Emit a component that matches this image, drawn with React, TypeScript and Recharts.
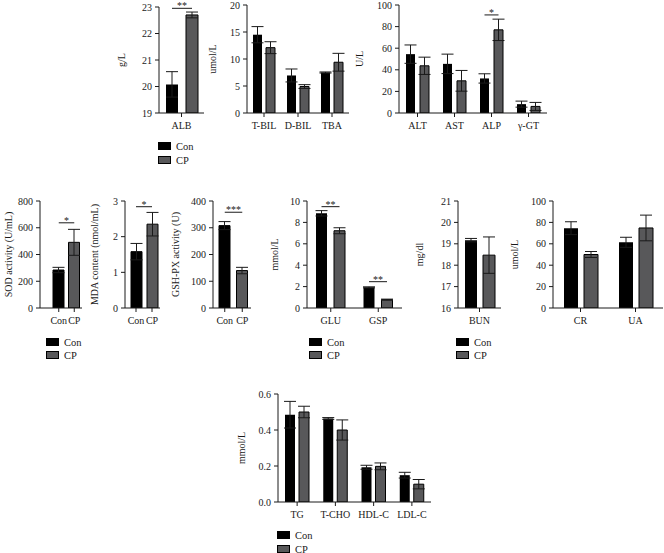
import React from "react";
import { BarChart, Bar, XAxis, YAxis, ErrorBar, Cell, LabelList, ReferenceLine } from "recharts";

const FONT = "'Liberation Serif', 'Times New Roman', serif";
const INK = "#1a1a1a";
const CON_FILL = "#000000";
const CP_FILL = "#58585a";

const groups = ["Con", "CP"];

// serum albumin
const albCats = ["ALB"];
const albCon = [20.08];
const albConSd = [0.48];
const albCp = [22.7];
const albCpSd = [0.11];
const albSig = ["**"];
const albSigAt = [22.95];
const albTicks = [19, 20, 21, 22, 23];

// bilirubin / bile acid
const bilCats = ["T-BIL", "D-BIL", "TBA"];
const bilCon = [14.5, 6.95, 7.5];
const bilConSd = [1.5, 1.2, 0.1];
const bilCp = [12.1, 4.9, 9.4];
const bilCpSd = [1.1, 0.35, 1.65];
const bilTicks = [0, 5, 10, 15, 20];

// liver enzymes
const enzCats = ["ALT", "AST", "ALP", "γ-GT"];
const enzCon = [54.5, 45.5, 32, 8.2];
const enzConSd = [8.5, 9, 4.3, 2.8];
const enzCp = [43.7, 29.8, 77, 6.1];
const enzCpSd = [8, 9.6, 9.9, 3.7];
const enzSig = ["", "", "*", ""];
const enzSigAt = [0, 0, 90.8, 0];
const enzTicks = [0, 20, 40, 60, 80, 100];

// oxidative stress
const sodVals = [284, 491];
const sodSd = [20, 97];
const sodSigAt = 637;
const sodTicks = [0, 200, 400, 600, 800];

const mdaVals = [1.58, 2.35];
const mdaSd = [0.23, 0.33];
const mdaSigAt = 2.84;
const mdaTicks = [0, 1, 2, 3];

const gshVals = [308, 140];
const gshSd = [15, 12];
const gshSigAt = 358;
const gshTicks = [0, 100, 200, 300, 400];

// glucose
const gluCats = ["GLU", "GSP"];
const gluCon = [8.85, 1.93];
const gluConSd = [0.25, 0.05];
const gluCp = [7.22, 0.78];
const gluCpSd = [0.28, 0.05];
const gluSig = ["**", "**"];
const gluSigAt = [9.47, 2.46];
const gluTicks = [0, 2, 4, 6, 8, 10];

// kidney
const bunCats = ["BUN"];
const bunCon = [19.17];
const bunConSd = [0.08];
const bunCp = [18.47];
const bunCpSd = [0.85];
const bunTicks = [16, 17, 18, 19, 20, 21];

const crCats = ["CR", "UA"];
const crCon = [74.6, 61.4];
const crConSd = [6, 4.7];
const crCp = [50, 74.8];
const crCpSd = [2.8, 12];
const crTicks = [0, 20, 40, 60, 80, 100];

// lipids
const lipCats = ["TG", "T-CHO", "HDL-C", "LDL-C"];
const lipCon = [0.485, 0.464, 0.193, 0.149];
const lipConSd = [0.074, 0.005, 0.011, 0.016];
const lipCp = [0.5, 0.4, 0.198, 0.099];
const lipCpSd = [0.032, 0.056, 0.019, 0.026];
const lipTicks = [0, 0.2, 0.4, 0.6];

const MT = 6;
const MR = 2;
const XH = 30;

const tickStyle = { fill: INK, fontSize: 10, fontFamily: FONT };

type Frame = { axisX: number; right: number; top: number; bottom: number; labelX: number };

function frameBox(f: Frame) {
  const yw = f.axisX - f.labelX + 6;
  return {
    yw,
    left: f.axisX - yw,
    top: f.top - MT,
    width: yw + (f.right - f.axisX) + MR,
    height: MT + (f.bottom - f.top) + XH,
  };
}

function yLabelProps(text: string) {
  return {
    value: text,
    angle: -90,
    position: "insideLeft" as const,
    offset: 6,
    fill: INK,
    fontSize: 10,
    fontFamily: FONT,
    style: { textAnchor: "middle" as const },
  };
}

type GroupedProps = Frame & {
  cats: string[];
  con: number[];
  conSd: number[];
  cp: number[];
  cpSd: number[];
  sig?: string[];
  sigAt?: number[];
  ticks: number[];
  yLabel: string;
  fmt?: (v: number) => string;
  barSize: number;
  barGap: number;
};

function Grouped(p: GroupedProps) {
  const box = frameBox(p);
  const rows = p.cats.map((name, i) => ({
    name,
    con: p.con[i],
    conSd: p.conSd[i],
    cp: p.cp[i],
    cpSd: p.cpSd[i],
    sig: p.sig ? p.sig[i] : "",
  }));
  const base = p.ticks[0];

  const renderSig = (props: any) => {
    const vb = props.viewBox && typeof props.viewBox.x === "number" ? props.viewBox : props;
    const { x, y, width, height } = vb;
    const i = props.index;
    if (!props.value || !p.sigAt || typeof i !== "number") return null;
    const v = p.cp[i];
    const perUnit = height / (v - base);
    const ly = y + height - (p.sigAt[i] - base) * perUnit;
    const x1 = x - p.barGap - width / 2;
    const x2 = x + width / 2;
    return (
      <g>
        <line x1={x1} x2={x2} y1={ly} y2={ly} stroke={INK} strokeWidth={1} />
        <text x={(x1 + x2) / 2} y={ly + 1} textAnchor="middle" fontSize={10} fontFamily={FONT} fill={INK}>
          {props.value}
        </text>
      </g>
    );
  };

  return (
    <div style={{ position: "absolute", left: box.left, top: box.top }}>
      <BarChart
        width={box.width}
        height={box.height}
        data={rows}
        margin={{ top: MT, right: MR, bottom: 0, left: 0 }}
        barGap={p.barGap}
        style={{ overflow: "visible" }}
      >
        <XAxis
          dataKey="name"
          height={XH}
          tickSize={4}
          tickMargin={5}
          tick={tickStyle}
          stroke={INK}
          axisLine={{ stroke: INK }}
          tickLine={{ stroke: INK }}
          interval={0}
        />
        <YAxis
          type="number"
          width={box.yw}
          domain={[p.ticks[0], p.ticks[p.ticks.length - 1]]}
          ticks={p.ticks}
          allowDataOverflow
          tickSize={4}
          tickMargin={3}
          tick={tickStyle}
          tickFormatter={p.fmt}
          axisLine={{ stroke: INK }}
          tickLine={{ stroke: INK }}
          interval={0}
          label={yLabelProps(p.yLabel)}
        />
        <Bar dataKey="con" fill={CON_FILL} barSize={p.barSize} isAnimationActive={false}>
          <ErrorBar dataKey="conSd" width={6} stroke={INK} strokeWidth={1} direction="y" />
        </Bar>
        <Bar dataKey="cp" fill={CP_FILL} stroke="#000" strokeWidth={1} barSize={p.barSize} isAnimationActive={false}>
          <ErrorBar dataKey="cpSd" width={6} stroke={INK} strokeWidth={1} direction="y" />
          {p.sig ? <LabelList dataKey="sig" content={renderSig} /> : null}
        </Bar>
      </BarChart>
    </div>
  );
}

type PairProps = Frame & {
  vals: number[];
  sd: number[];
  sigAt: number;
  sig: string;
  ticks: number[];
  yLabel: string;
  barSize: number;
  padLeft: number;
};

function Pair(p: PairProps) {
  const box = frameBox(p);
  const rows = groups.map((name, i) => ({ name, v: p.vals[i], sd: p.sd[i] }));
  return (
    <div style={{ position: "absolute", left: box.left, top: box.top }}>
      <BarChart
        width={box.width}
        height={box.height}
        data={rows}
        margin={{ top: MT, right: MR, bottom: 0, left: 0 }}
        style={{ overflow: "visible" }}
      >
        <XAxis
          dataKey="name"
          height={XH}
          padding={{ left: p.padLeft, right: 0 }}
          tickSize={4}
          tickMargin={5}
          tick={tickStyle}
          axisLine={{ stroke: INK }}
          tickLine={{ stroke: INK }}
          interval={0}
        />
        <YAxis
          type="number"
          width={box.yw}
          domain={[p.ticks[0], p.ticks[p.ticks.length - 1]]}
          ticks={p.ticks}
          allowDataOverflow
          tickSize={4}
          tickMargin={3}
          tick={tickStyle}
          axisLine={{ stroke: INK }}
          tickLine={{ stroke: INK }}
          interval={0}
          label={yLabelProps(p.yLabel)}
        />
        <Bar dataKey="v" barSize={p.barSize} isAnimationActive={false}>
          {rows.map((r, i) => (
            <Cell key={r.name} fill={i === 0 ? CON_FILL : CP_FILL} stroke="#000" strokeWidth={1} />
          ))}
          <ErrorBar dataKey="sd" width={6} stroke={INK} strokeWidth={1} direction="y" />
        </Bar>
        <ReferenceLine
          segment={[
            { x: groups[0], y: p.sigAt },
            { x: groups[1], y: p.sigAt },
          ]}
          stroke={INK}
          strokeWidth={1}
          ifOverflow="visible"
          label={{ value: p.sig, position: "top", offset: -1, fill: INK, fontSize: 10, fontFamily: FONT }}
        />
      </BarChart>
    </div>
  );
}

function LegendBlock({ x, y, step }: { x: number; y: number; step: number }) {
  return (
    <svg
      width={60}
      height={step + 12}
      style={{ position: "absolute", left: x, top: y, overflow: "visible" }}
    >
      {groups.map((g, i) => (
        <g key={g}>
          <rect
            x={0.5}
            y={0.5 + i * step}
            width={12}
            height={7}
            fill={i === 0 ? CON_FILL : CP_FILL}
            stroke="#000"
            strokeWidth={1}
          />
          <text x={18} y={7.5 + i * step} fontSize={10.5} fontFamily={FONT} fill={INK}>
            {g}
          </text>
        </g>
      ))}
    </svg>
  );
}

export default function App() {
  return (
    <div
      style={{
        position: "absolute",
        left: 0,
        top: 0,
        width: 664,
        height: 553,
        background: "#fff",
        overflow: "hidden",
        fontFamily: FONT,
      }}
    >
      <Grouped
        axisX={159} right={204} top={7} bottom={113} labelX={121}
        cats={albCats} con={albCon} conSd={albConSd} cp={albCp} cpSd={albCpSd}
        sig={albSig} sigAt={albSigAt} ticks={albTicks} yLabel="g/L" barSize={12} barGap={8}
      />
      <Grouped
        axisX={247} right={349} top={5} bottom={113} labelX={212}
        cats={bilCats} con={bilCon} conSd={bilConSd} cp={bilCp} cpSd={bilCpSd}
        ticks={bilTicks} yLabel="umol/L" barSize={9} barGap={4}
      />
      <Grouped
        axisX={399} right={547} top={5} bottom={113} labelX={359}
        cats={enzCats} con={enzCon} conSd={enzConSd} cp={enzCp} cpSd={enzCpSd}
        sig={enzSig} sigAt={enzSigAt} ticks={enzTicks} yLabel="U/L" barSize={9} barGap={5}
      />
      <LegendBlock x={158} y={142} step={14} />

      <Pair
        axisX={40} right={82} top={201} bottom={308} labelX={8}
        vals={sodVals} sd={sodSd} sig="*" sigAt={sodSigAt} ticks={sodTicks}
        yLabel="SOD activity (U/mL)" barSize={11} padLeft={11}
      />
      <Pair
        axisX={125} right={160} top={201} bottom={308} labelX={94}
        vals={mdaVals} sd={mdaSd} sig="*" sigAt={mdaSigAt} ticks={mdaTicks}
        yLabel="MDA content (nmol/mL)" barSize={11} padLeft={3}
      />
      <Pair
        axisX={213} right={251} top={201} bottom={308} labelX={175}
        vals={gshVals} sd={gshSd} sig="***" sigAt={gshSigAt} ticks={gshTicks}
        yLabel="GSH-PX activity (U)" barSize={11} padLeft={3}
      />
      <LegendBlock x={46} y={338} step={13} />

      <Grouped
        axisX={307} right={402} top={201} bottom={308} labelX={274}
        cats={gluCats} con={gluCon} conSd={gluConSd} cp={gluCp} cpSd={gluCpSd}
        sig={gluSig} sigAt={gluSigAt} ticks={gluTicks} yLabel="mmol/L" barSize={11} barGap={7}
      />
      <LegendBlock x={309} y={338} step={13} />

      <Grouped
        axisX={458} right={501} top={201} bottom={308} labelX={419}
        cats={bunCats} con={bunCon} conSd={bunConSd} cp={bunCp} cpSd={bunCpSd}
        ticks={bunTicks} yLabel="mg/dl" barSize={12} barGap={6}
      />
      <Grouped
        axisX={553} right={663} top={201} bottom={308} labelX={514}
        cats={crCats} con={crCon} conSd={crConSd} cp={crCp} cpSd={crCpSd}
        ticks={crTicks} yLabel="umol/L" barSize={14} barGap={6}
      />
      <LegendBlock x={456} y={338} step={13} />

      <Grouped
        axisX={278} right={431} top={394} bottom={502} labelX={241}
        cats={lipCats} con={lipCon} conSd={lipConSd} cp={lipCp} cpSd={lipCpSd}
        ticks={lipTicks} fmt={(v: number) => v.toFixed(1)} yLabel="mmol/L" barSize={10} barGap={4}
      />
      <LegendBlock x={277} y={531} step={14} />
    </div>
  );
}
